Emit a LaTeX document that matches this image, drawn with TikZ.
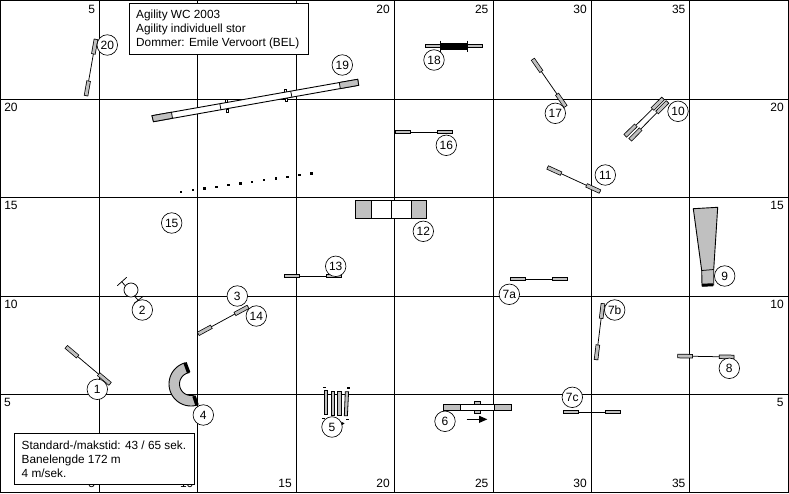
\documentclass[tikz,border=0pt]{standalone}
\usepackage{fontspec}
\setmainfont{Liberation Sans}
\usetikzlibrary{calc}
\definecolor{barfill}{HTML}{C0C0C0}
\tikzset{
  ln/.style={line width=0.9pt,draw=black},
  thinln/.style={line width=0.75pt,draw=black},
  gridline/.style={line width=1.1pt,draw=black},
  num/.style={circle,draw=black,line width=0.65pt,fill=white,minimum size=20.5pt,inner sep=0pt,font=\fontsize{12}{12}\selectfont},
  lab/.style={inner sep=0pt,font=\fontsize{12}{12}\selectfont},
  txt/.style={inner sep=0pt,anchor=base west,font=\fontsize{11.8}{12}\selectfont},
  infobox/.style={draw=black,line width=1pt,fill=white},
  barout/.style={line width=4.4pt,draw=black},
  barin/.style={line width=2.9pt,draw=barfill,shorten <=0.75pt,shorten >=0.75pt},
  graybox/.style={draw=black,line width=0.8pt,fill=barfill},
  whitebox/.style={draw=black,line width=0.8pt,fill=white},
}
\newcommand\hurdle[4]{%
  \coordinate (ha) at (#1,#2);
  \coordinate (hb) at (#3,#4);
  \draw[thinln] (ha) -- (hb);
  \draw[barout] (ha) -- ($(ha)!15.5pt!(hb)$);
  \draw[barin] (ha) -- ($(ha)!15.5pt!(hb)$);
  \draw[barout] (hb) -- ($(hb)!15.5pt!(ha)$);
  \draw[barin] (hb) -- ($(hb)!15.5pt!(ha)$);
}
\begin{document}
\begin{tikzpicture}[x=1pt,y=-1pt]
\useasboundingbox (0,0) rectangle (789,493);
\fill[white] (0,0) rectangle (789,493);
% grid
\draw[gridline] (0.5,0.5) rectangle (788.5,492.5);
\foreach \gx in {99.5,197.5,296.5,394.5,493.5,591.5,689.5} \draw[gridline] (\gx,0) -- (\gx,493);
\foreach \gy in {99.3,197.3,296.3,394.3} \draw[gridline] (0,\gy) -- (789,\gy);
% scale labels
\node[lab] (t5) at (91.7,9) {5};
\node[lab] (t20) at (383,9) {20};
\node[lab] (t25) at (481.7,9) {25};
\node[lab] (t30) at (580,9) {30};
\node[lab] (t35) at (678.7,9) {35};
\node[lab] (l20) at (11,107) {20};
\node[lab] (l15) at (11,205.5) {15};
\node[lab] (l10) at (11,304.3) {10};
\node[lab] (l5) at (7.5,402.3) {5};
\node[lab] (r20) at (777,107) {20};
\node[lab] (r15) at (777,205.5) {15};
\node[lab] (r10) at (777,304.3) {10};
\node[lab] (r5) at (780.3,402.3) {5};
\node[lab] (b5) at (91.7,483.7) {5};
\node[lab] (b10) at (186.7,483.7) {10};
\node[lab] (b15) at (285,483.7) {15};
\node[lab] (b20) at (383,483.7) {20};
\node[lab] (b25) at (481.7,483.7) {25};
\node[lab] (b30) at (580,483.7) {30};
\node[lab] (b35) at (678.7,483.7) {35};
% hurdles
\hurdle{86}{96}{96}{39}
\hurdle{532.7}{59}{565.7}{106.7}
\hurdle{395}{132}{452.7}{132}
\hurdle{625}{136}{663.3}{98.3}
\hurdle{630}{140}{667.7}{101.7}
\hurdle{547.3}{167.3}{600.3}{191.7}
\hurdle{284.3}{276}{341.7}{276}
\hurdle{198}{334}{248.3}{306.7}
\hurdle{66}{346.7}{110.3}{384}
\hurdle{510.3}{279}{567.7}{279}
\hurdle{596}{360}{603}{303.3}
\hurdle{563.3}{412}{620.7}{412}
\hurdle{677.3}{356}{734.3}{357}
% 18: long jump with black centre
\draw[graybox] (425.5,44.3) rectangle (482.7,47.7);
\fill[black] (440.5,43) rectangle (467.5,49.7);
\draw[thinln] (440.5,40.7) -- (440.5,51.7);
\draw[thinln] (467.5,40.7) -- (467.5,51.7);
% 19: dog walk
\draw[thinln,fill=white] (225,99.5) rectangle (227,102);
\draw[thinln,fill=white] (284,89.5) rectangle (286,92);
\draw[thinln,fill=white] (226.5,109) rectangle (228.5,112);
\draw[thinln,fill=white] (285.5,98.5) rectangle (287.5,101);
\draw[ln,fill=white] (152,115.7) -- (357.7,79.3) -- (358.7,85.3) -- (153.5,121.7) -- cycle;
\draw[graybox] (152,115.7) -- (171.5,112.2) -- (172.5,118.2) -- (153.5,121.7) -- cycle;
\draw[graybox] (339.3,82.5) -- (357.7,79.3) -- (358.7,85.3) -- (340.3,88.6) -- cycle;
\draw[thinln] (219.8,103.7) -- (221,110);
\draw[thinln] (290.7,91.2) -- (292,97.4);
% 15: poles
\foreach \pi in {0,...,11}
  \fill[black] ({179.7+11.85*\pi},{190.6-1.67*\pi}) rectangle ++(2.6,2.4);
% 12: table
\draw[graybox] (355.3,200) rectangle (371.3,218.3);
\draw[whitebox] (371.3,200) rectangle (391.3,218.3);
\draw[whitebox] (391.3,200) rectangle (411.3,218.3);
\draw[graybox] (411.3,200) rectangle (426.7,218.3);
% 9: chute
\draw[graybox,line width=0.9pt] (693.3,208.7) -- (717.7,207.3) -- (713.7,269.5) -- (713.7,285) -- (702,286) -- (701.7,270.5) -- cycle;
\draw[thinln] (701.7,270.5) -- (713.7,269.5);
\draw[line width=3pt,draw=black] (702,285.2) -- (713,284.8);
% 2: tyre
\draw[thinln] (121.7,281.7) -- (138,300);
\draw[thinln] (117.3,285.7) -- (126.7,277.3);
\draw[thinln] (134,303.5) -- (143.3,296.2);
\draw[thinln,fill=white] (131,290) circle (7);
% 4: tunnel
\draw[graybox,line width=0.9pt] plot[domain=254:73,samples=30] ({191+22*cos(\x)},{384+22*sin(\x)}) -- plot[domain=76:260,samples=20] ({191+11.5*cos(\x)},{384+11.5*sin(\x)}) -- cycle;
\draw[line width=3.5pt,draw=black] (185,362.7) -- (188.7,372.7);
\draw[line width=3.5pt,draw=black] (194,396) -- (197,405);
% 5: weave
\draw[graybox] (324.5,390.7) rectangle (327.7,414.3);
\draw[graybox] (331,391.7) rectangle (334.3,415.7);
\draw[graybox] (337.7,391.7) rectangle (341,415.7);
\draw[graybox] (345.3,391.7) -- (348.6,391.7) -- (347.4,415.7) -- (344.3,415.7) -- cycle;
\foreach \wx/\wy in {323.3/386.5,347.3/387.2,322.3/417.5,346.3/418.5}
  \fill[black] (\wx,\wy) rectangle ++(2.6,1.8);
% 6: A-frame
\draw[graybox] (474,401.3) rectangle (480.7,413.7);
\draw[whitebox] (460.7,404.3) rectangle (494.3,410.7);
\draw[graybox] (443.3,404.3) rectangle (460.7,410.7);
\draw[graybox] (494.3,404.3) rectangle (511.7,410.7);
\draw[thinln] (466.7,419.3) -- (480,419.3);
\fill[black] (479,415.7) -- (487.3,419.3) -- (479,423) -- cycle;
% numbers
\node[num] (n20) at (107.3,45) {20};
\node[num] (n19) at (342.3,65) {19};
\node[num] (n18) at (434,60) {18};
\node[num] (n17) at (555.3,113.3) {17};
\node[num] (n10) at (678,111.3) {10};
\node[num] (n16) at (446.3,145.3) {16};
\node[num] (n11) at (605.3,175) {11};
\node[num] (n15) at (171.7,223) {15};
\node[num] (n12) at (423.3,231.3) {12};
\node[num] (n13) at (335.7,266.3) {13};
\node[num] (n9) at (724.7,276) {9};
\node[num] (n7a) at (509.3,294.3) {7a};
\node[num] (n3) at (237.3,296) {3};
\node[num] (n2) at (142.3,310) {2};
\node[num] (n14) at (256.3,316) {14};
\node[num] (n7b) at (614.7,310) {7b};
\node[num] (n8) at (729.3,368.3) {8};
\node[num] (n1) at (97.3,389.3) {1};
\node[num] (n7c) at (572.3,397.3) {7c};
\node[num] (n4) at (203.3,415) {4};
\node[num] (n5) at (332,427) {5};
\node[num] (n6) at (445,421.3) {6};
\fill[black] (341.3,421.7) -- (344.5,423.3) -- (342,425.2) -- cycle;
% info boxes
\draw[infobox] (129.5,3.7) rectangle (308.3,54);
\node[txt] (i1) at (136,18.8) {Agility WC 2003};
\node[txt] (i2) at (136,32.8) {Agility individuell stor};
\node[txt] (i3) at (136,46.8) {Dommer: Emile Vervoort (BEL)};
\draw[infobox] (14.7,433.3) rectangle (194.3,484.3);
\node[txt] (s1) at (21.5,449) {Standard-/makstid: 43 / 65 sek.};
\node[txt] (s2) at (21.5,463) {Banelengde 172 m};
\node[txt] (s3) at (21.5,477) {4 m/sek.};
\end{tikzpicture}
\end{document}
